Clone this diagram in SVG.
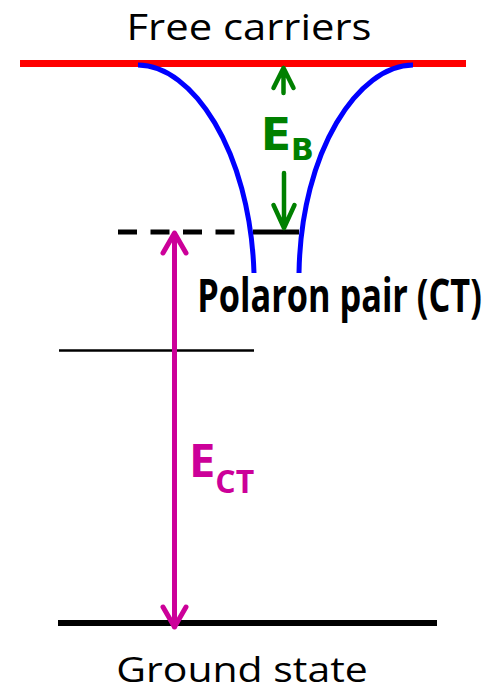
<svg xmlns="http://www.w3.org/2000/svg" width="491" height="692" viewBox="0 0 491 692">
<style>
.lbl{font-family:"Open Sans","Liberation Sans",sans-serif;fill:#000}
.ar{fill:none;stroke-linecap:round;stroke-linejoin:round}
</style>
<rect width="491" height="692" fill="#fff"/>
<g id="levels">
<line x1="20" y1="63.5" x2="466" y2="63.5" stroke="#ff0000" stroke-width="7"/>
<line x1="118" y1="232" x2="236" y2="232" stroke="#000" stroke-width="5" stroke-dasharray="19,13.5"/>
<line x1="253" y1="232" x2="299" y2="232" stroke="#000" stroke-width="5"/>
<line x1="59" y1="350.5" x2="254" y2="350.5" stroke="#000" stroke-width="2.5"/>
<line x1="58" y1="623" x2="437" y2="623" stroke="#000" stroke-width="6"/>
</g>
<g id="well">
<path d="M138,65 C192,65 250,150 254,273" fill="none" stroke="#0000ff" stroke-width="5"/>
<path d="M413,65 C359,65 301,150 299,273" fill="none" stroke="#0000ff" stroke-width="5"/>
</g>
<g id="connectors">
<path class="ar" d="M283.5,93 V68 M273.5,88 L283.5,68 L293.5,88" stroke="#008000" stroke-width="4.5"/>
<path class="ar" d="M284,173 V228 M273.5,205 L284,228 L294.5,205" stroke="#008000" stroke-width="4.5"/>
<path class="ar" d="M174.5,234 V627 M163,253 L174.5,233 L186,253 M163,607 L174.5,627 L186,607" stroke="#cc0099" stroke-width="5"/>
</g>
<g id="texts">
<text class="lbl" transform="translate(249,40) scale(1.13,1)" font-size="37" text-anchor="middle">Free carriers</text>
<text x="261" y="150" font-family="DejaVu Sans,sans-serif" font-weight="bold" font-size="44" fill="#008000">E<tspan font-size="30" dy="10">B</tspan></text>
<text transform="translate(339.5,312) scale(0.746,1)" font-family="Open Sans,Liberation Sans,sans-serif" font-weight="bold" font-size="46" text-anchor="middle" fill="#000">Polaron pair (CT)</text>
<text x="189" y="477" font-family="Open Sans,Liberation Sans,sans-serif" font-weight="bold" font-size="47" fill="#cc0099">E<tspan font-size="32" dy="16">CT</tspan></text>
<text class="lbl" transform="translate(242,682) scale(1.17,1)" font-size="35" text-anchor="middle">Ground state</text>
</g>
</svg>
